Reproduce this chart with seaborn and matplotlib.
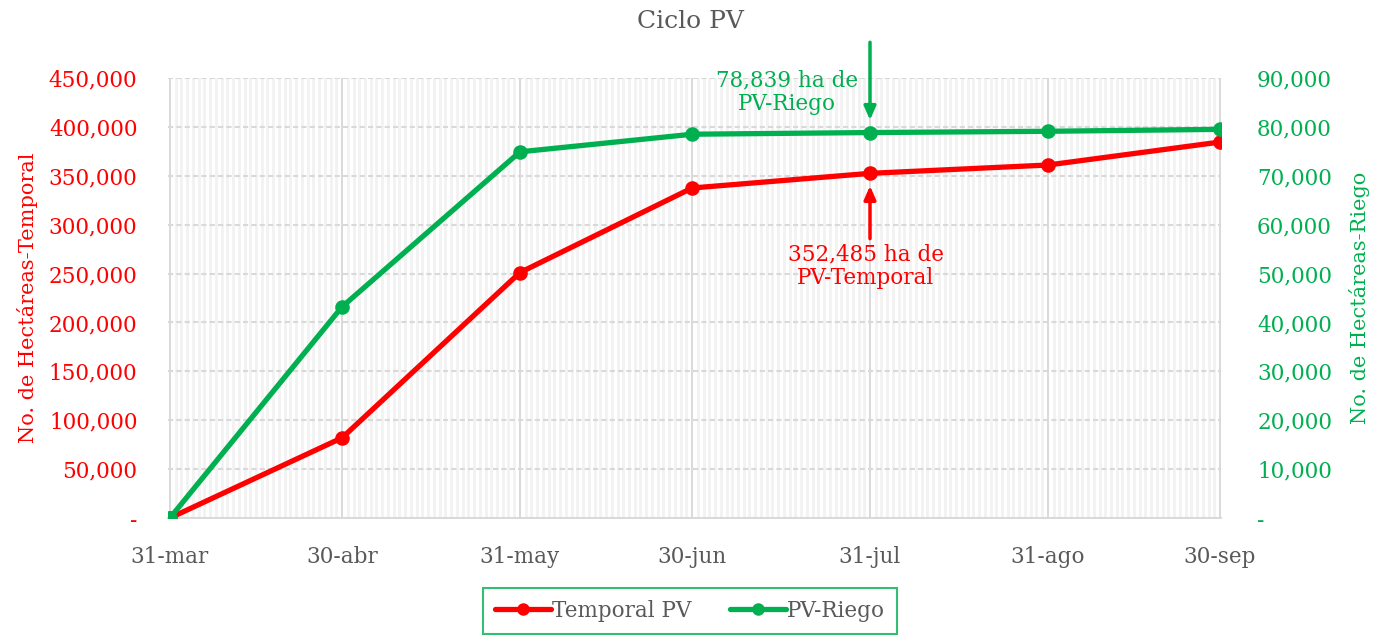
import pandas as pd
import matplotlib
matplotlib.use("Agg")
import matplotlib.pyplot as plt
import matplotlib.dates as mdates
from matplotlib.ticker import FuncFormatter, FixedLocator
from matplotlib.lines import Line2D
import seaborn as sns

# datos
fechas = ["2024-03-31", "2024-04-30", "2024-05-31", "2024-06-30",
          "2024-07-31", "2024-08-31", "2024-09-30"]
etiquetas = ["31-mar", "30-abr", "31-may", "30-jun", "31-jul", "31-ago", "30-sep"]
temporal = [0, 82000, 251000, 337500, 352485, 361000, 384500]
riego = [0, 43200, 74900, 78500, 78839, 79100, 79500]

df = pd.DataFrame({"fecha": pd.to_datetime(fechas),
                   "Temporal PV": temporal, "PV-Riego": riego})

sns.set_style("white")
plt.rcParams["font.family"] = ["DejaVu Serif"]

ROJO = "#FF0000"
VERDE = "#00B050"
GRIS = "#595959"
FS = 15.5

fig = plt.figure(figsize=(13.76, 6.38), dpi=100)
ax = fig.add_axes([168 / 1376, 1 - 518 / 638, (1221 - 168) / 1376, (518 - 78) / 638])
ax2 = ax.twinx()

sns.lineplot(data=df, x="fecha", y="Temporal PV", ax=ax, color=ROJO, lw=3.8,
             marker="o", markersize=10.5, markeredgewidth=0, zorder=3)
sns.lineplot(data=df, x="fecha", y="PV-Riego", ax=ax2, color=VERDE, lw=3.8,
             marker="o", markersize=10.5, markeredgewidth=0, zorder=3)

x0 = df["fecha"].iloc[0] - pd.Timedelta(hours=8)
x1 = df["fecha"].iloc[-1] + pd.Timedelta(hours=4)
ax.set_xlim(x0, x1)
ax.set_ylim(0, 450000)
ax2.set_ylim(0, 90000)
ax.set_yticks(range(0, 450001, 50000))
ax2.set_yticks(range(0, 90001, 10000))

fmt = FuncFormatter(lambda v, p: "-" if v == 0 else f"{v:,.0f}")
ax.yaxis.set_major_formatter(fmt)
ax2.yaxis.set_major_formatter(fmt)

ax.xaxis.set_major_locator(FixedLocator(mdates.date2num(df["fecha"])))
ax.set_xticklabels(etiquetas)
ax.xaxis.set_minor_locator(mdates.DayLocator())

# rejilla
ax.grid(axis="y", which="major", color="#d9d9d9", lw=1.5, ls=(0, (2.5, 1.5)))
ax.grid(axis="x", which="minor", color="#f2f2f2", lw=2.0)
ax.grid(axis="x", which="major", color="#d9d9d9", lw=1.4)
ax.set_axisbelow(True)

for a in (ax, ax2):
    for s in a.spines.values():
        s.set_visible(False)
ax.spines["bottom"].set_visible(True)
ax.spines["bottom"].set_color("#d9d9d9")
ax.spines["bottom"].set_linewidth(1.4)

ax.tick_params(axis="x", which="major", length=10, width=1.4, color="#d9d9d9",
               labelsize=FS, labelcolor=GRIS, pad=10)
ax.tick_params(axis="x", which="minor", length=0)
ax.tick_params(axis="y", length=0, labelsize=FS, labelcolor=ROJO, pad=22)
ax2.tick_params(axis="y", length=0, labelsize=FS, labelcolor=VERDE, pad=26)

ax.set_xlabel("")
ax.set_ylabel("No. de Hectáreas-Temporal", color=ROJO, fontsize=15, labelpad=8)
ax2.set_ylabel("No. de Hectáreas-Riego", color=VERDE, fontsize=15, labelpad=12)

fig.text(690 / 1376, 1 - 22 / 638, "Ciclo PV", ha="center", va="center",
         fontsize=18, color=GRIS)

# anotaciones
jul = df["fecha"].iloc[4]
ax2.annotate("", xy=(jul, riego[4]), xytext=(0, 65), textcoords="offset points",
             arrowprops=dict(arrowstyle="-|>,head_length=0.8,head_width=0.35",
                             color=VERDE, lw=2.5, shrinkA=0, shrinkB=9),
             annotation_clip=False)
ax2.annotate("78,839 ha de\nPV-Riego", xy=(jul, riego[4]), xytext=(-60, 29),
             textcoords="offset points", ha="center", va="center",
             color=VERDE, fontsize=FS, linespacing=1.1, annotation_clip=False)
ax.annotate("", xy=(jul, temporal[4]), xytext=(0, -47), textcoords="offset points",
            arrowprops=dict(arrowstyle="-|>,head_length=0.8,head_width=0.35",
                            color=ROJO, lw=2.5, shrinkA=0, shrinkB=9))
ax.annotate("352,485 ha de\nPV-Temporal", xy=(jul, temporal[4]), xytext=(-3, -67),
            textcoords="offset points", ha="center", va="center",
            color=ROJO, fontsize=FS, linespacing=1.1)

# leyenda
handles = [Line2D([], [], color=ROJO, lw=3.8, marker="o", markersize=9,
                  markeredgewidth=0),
           Line2D([], [], color=VERDE, lw=3.8, marker="o", markersize=9,
                  markeredgewidth=0)]
leg = fig.legend(handles, ["Temporal PV", "PV-Riego"], loc="upper center",
                 bbox_to_anchor=(690 / 1376, 1 - 588 / 638), ncol=2,
                 frameon=True, fancybox=False, edgecolor=VERDE, fontsize=FS,
                 handlelength=2.6, handletextpad=0.05, columnspacing=1.8,
                 borderpad=0.55, borderaxespad=0)
leg.get_frame().set_linewidth(1.5)
for t in leg.get_texts():
    t.set_color(GRIS)

fig.savefig("out.png", dpi=100)
